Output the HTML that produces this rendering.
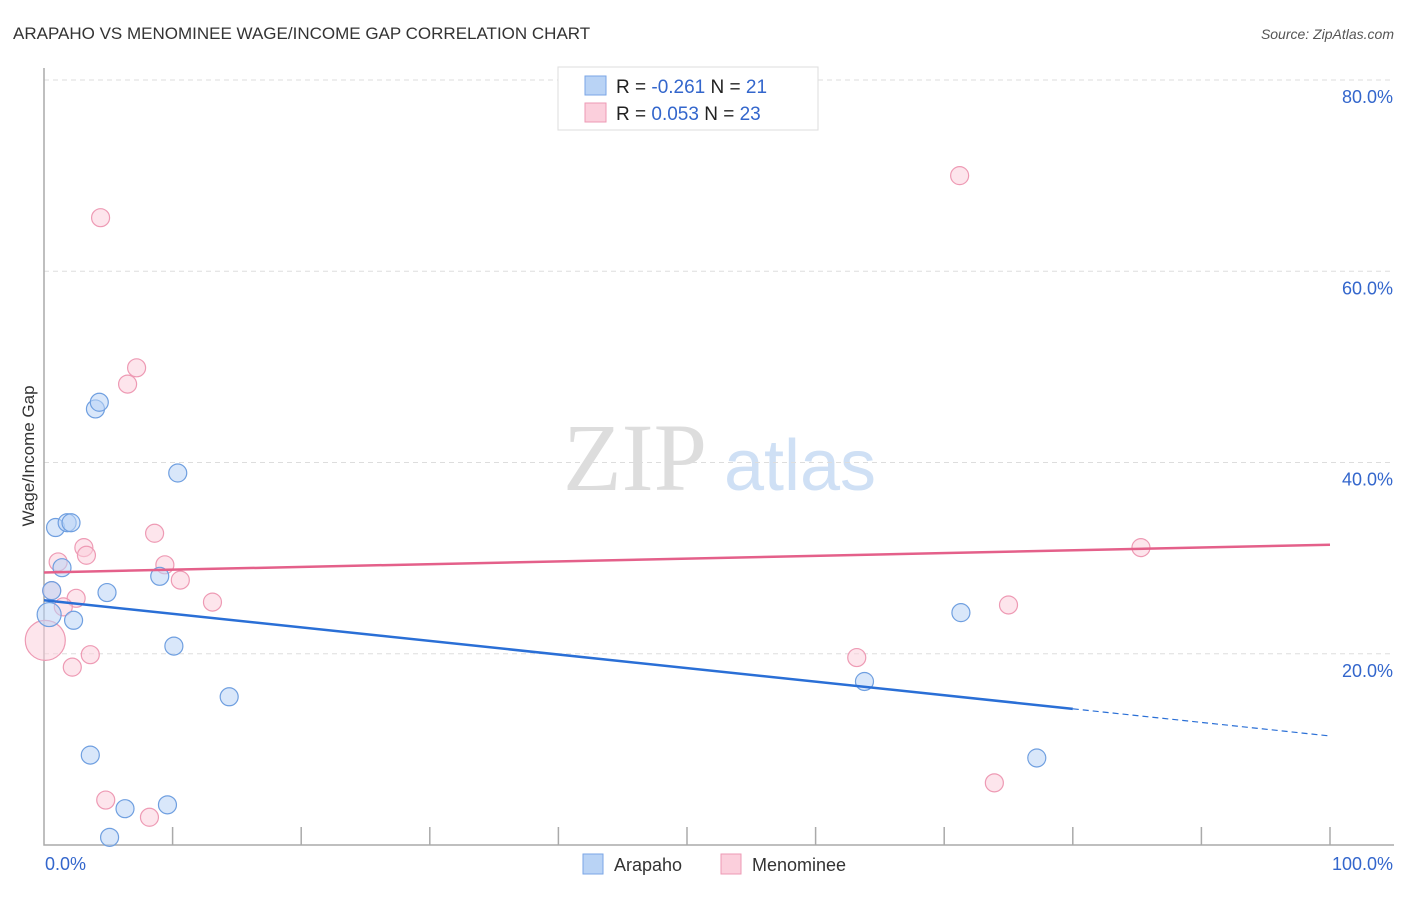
<!DOCTYPE html>
<html><head><meta charset="utf-8"><style>
body{margin:0;background:#fff;font-family:"Liberation Sans",sans-serif;}
</style></head><body>
<svg id="chart" width="1406" height="892" xmlns="http://www.w3.org/2000/svg" font-family="Liberation Sans, sans-serif">
<text x="13" y="39" font-size="17" fill="#333">ARAPAHO VS MENOMINEE WAGE/INCOME GAP CORRELATION CHART</text>
<text x="1394" y="39" font-size="14" fill="#555" text-anchor="end" font-style="italic">Source: ZipAtlas.com</text>
<g>
<text x="635" y="490" font-size="96" fill="#ddd" font-family="Liberation Serif, serif" text-anchor="middle">ZIP</text>
<text x="800" y="490" font-size="72" fill="#cfe0f5" text-anchor="middle">atlas</text>
</g>
<g id="grid"></g>
<g id="axes"></g>
<g id="marks"></g>
<text transform="translate(34,456) rotate(-90)" font-size="17" fill="#333" text-anchor="middle">Wage/Income Gap</text>
<g>
<rect x="558" y="67" width="260" height="63" fill="#fff" stroke="#ddd"/>
<rect x="585" y="76" width="21" height="19" fill="#b9d3f5" stroke="#7aa6e6"/>
<rect x="585" y="103" width="21" height="19" fill="#fbcfdc" stroke="#ee9ab4"/>
<text x="616" y="93" font-size="19" fill="#222">R = <tspan fill="#3366cc">-0.261</tspan>   N = <tspan fill="#3366cc"> 21</tspan></text>
<text x="616" y="120" font-size="19" fill="#222">R = <tspan fill="#3366cc"> 0.053</tspan>   N = <tspan fill="#3366cc">23</tspan></text>
</g>
<g>
<rect x="583" y="854" width="20" height="20" fill="#b9d3f5" stroke="#7aa6e6"/>
<text x="614" y="871" font-size="18" fill="#333">Arapaho</text>
<rect x="721" y="854" width="20" height="20" fill="#fbcfdc" stroke="#ee9ab4"/>
<text x="752" y="871" font-size="18" fill="#333">Menominee</text>
</g>
</svg>
<script>
const yTicks=[20,40,60,80];
const yTickLabels=["20.0%","40.0%","60.0%","80.0%"];
const xTicks=[0,10,20,30,40,50,60,70,80,90,100];
const arapahoX=[0.6,0.9,1.4,1.8,2.1,2.3,0.4,4.0,4.3,4.9,3.6,6.3,5.1,9.0,9.6,10.1,10.4,14.4,63.8,71.3,77.2];
const arapahoY=[26.6,33.2,29.0,33.7,33.7,23.5,24.1,45.6,46.3,26.4,9.4,3.8,0.8,28.1,4.2,20.8,38.9,15.5,17.1,24.3,9.1];
const arapahoR=[9,9,9,9,9,9,12,9,9,9,9,9,9,9,9,9,9,9,9,9,9];
const menomX=[4.4,71.2,7.2,6.5,8.6,1.1,3.1,3.3,9.4,10.6,13.1,2.5,1.5,0.1,3.6,2.2,4.8,8.2,63.2,75.0,73.9,85.3,0.6];
const menomY=[65.6,70.0,49.9,48.2,32.6,29.6,31.1,30.3,29.3,27.7,25.4,25.8,24.9,21.4,19.9,18.6,4.7,2.9,19.6,25.1,6.5,31.1,26.6];
const menomR=[9,9,9,9,9,9,9,9,9,9,9,9,9,20,9,9,9,9,9,9,9,9,9];
const arapahoTrend=[25.6,11.4];
const menomTrend=[28.5,31.4];
const arapahoSolidEnd=80;
const NS="http://www.w3.org/2000/svg";
const xs=v=>44+v*12.86;
const ys=v=>845-v*9.5625;
function mk(tag,attrs,parent){const e=document.createElementNS(NS,tag);for(const k in attrs)e.setAttribute(k,attrs[k]);parent.appendChild(e);return e;}
const grid=document.getElementById('grid'),axes=document.getElementById('axes'),marks=document.getElementById('marks');
yTicks.forEach((t,i)=>{
 const l=mk('line',{x1:44,x2:1394,y1:ys(t),y2:ys(t),stroke:'#ddd','stroke-dasharray':'5,4'},grid);
 
 
 const tx=mk('text',{x:1393,y:ys(t)+23,'font-size':18,fill:'#3366cc','text-anchor':'end'},grid);
 tx.textContent=yTickLabels[i];
 
 
});
const ax=mk('path',{d:'M44,68V845H1394',fill:'none',stroke:'#aaa','stroke-width':1.5},axes);


xTicks.forEach(t=>{if(t===0)return;
 const l=mk('line',{x1:xs(t),x2:xs(t),y1:827,y2:845,stroke:'#aaa','stroke-width':1.5},axes);
 
 
});
const x0=mk('text',{x:45,y:870,'font-size':18,fill:'#3366cc'},axes);x0.textContent='0.0%';


const x1=mk('text',{x:1393,y:870,'font-size':18,fill:'#3366cc','text-anchor':'end'},axes);x1.textContent='100.0%';


function pts(X,Y,R,fill,stroke,name){X.forEach((x,i)=>{
 const c=mk('circle',{cx:xs(x),cy:ys(Y[i]),r:R[i],fill:fill,'fill-opacity':0.55,stroke:stroke,'stroke-width':1.2},marks);
 
 
});}
pts(menomX,menomY,menomR,'#fbcfdc','#ee9ab4','menominee-point');
pts(arapahoX,arapahoY,arapahoR,'#b9d3f5','#6f9fe0','arapaho-point');
const bAt=x=>arapahoTrend[0]+(arapahoTrend[1]-arapahoTrend[0])*x/100;
const bl=mk('line',{x1:xs(0),y1:ys(bAt(0)),x2:xs(arapahoSolidEnd),y2:ys(bAt(arapahoSolidEnd)),stroke:'#2a6fd6','stroke-width':2.5},marks);


const bd=mk('line',{x1:xs(arapahoSolidEnd),y1:ys(bAt(arapahoSolidEnd)),x2:xs(100),y2:ys(bAt(100)),stroke:'#2a6fd6','stroke-width':1.2,'stroke-dasharray':'6,4'},marks);


const pl=mk('line',{x1:xs(0),y1:ys(menomTrend[0]),x2:xs(100),y2:ys(menomTrend[1]),stroke:'#e4608a','stroke-width':2.5},marks);


</script>
</body></html>
